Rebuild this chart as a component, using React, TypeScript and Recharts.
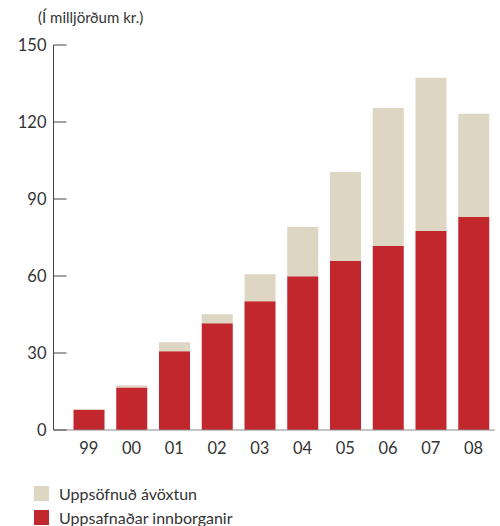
import React from 'react';
import { BarChart, Bar, XAxis, YAxis } from 'recharts';

const categories = ['99', '00', '01', '02', '03', '04', '05', '06', '07', '08'];
const innborganir = [7.9, 16.6, 30.7, 41.6, 50.2, 59.9, 65.8, 71.7, 77.5, 83.0];
const avoxtun = [0.3, 0.8, 3.5, 3.5, 10.5, 19.2, 34.7, 53.8, 59.7, 40.2];
const yTicks = [0, 30, 60, 90, 120, 150];
const seriesNames = ['Uppsöfnuð ávöxtun', 'Uppsafnaðar innborganir'];

const RED = '#C1272D';
const BEIGE = '#DDD6C3';
const FONT = 'Lato, "Open Sans", sans-serif';
const TEXT = '#333';

const data = categories.map((c, i) => ({
  name: c,
  innborganir: innborganir[i],
  avoxtun: avoxtun[i],
}));

const YTick = (props: any) => {
  const { x, y, payload } = props;
  const ax = x + 7;
  return (
    <g>
      <line x1={ax} x2={ax + 13} y1={y} y2={y} stroke="#444" strokeWidth={1} />
      <text x={x} y={y} dy={5.5} textAnchor="end" fill={TEXT} fontSize={16.5} fontFamily={FONT} fontWeight={400}>
        {payload.value}
      </text>
    </g>
  );
};

const LegendBlock = () => {
  const items = [
    { label: seriesNames[0], color: BEIGE },
    { label: seriesNames[1], color: RED },
  ];
  return (
    <div
      style={{
        position: 'absolute',
        left: 34,
        top: 481,
        fontFamily: FONT,
        fontSize: 16,
        color: TEXT,
        fontWeight: 400,
      }}
    >
      {items.map((it) => (
        <div key={it.label} style={{ display: 'flex', alignItems: 'center', height: 24 }}>
          <span style={{ display: 'inline-block', width: 15, height: 15, background: it.color, marginRight: 10 }} />
          <span>{it.label}</span>
        </div>
      ))}
    </div>
  );
};

export default function App() {
  return (
    <div style={{ position: 'absolute', left: 0, top: 0, width: 500, height: 526, background: '#fff' }}>
      <div
        style={{
          position: 'absolute',
          left: 38,
          top: 8,
          fontFamily: FONT,
          fontSize: 15,
          fontWeight: 400,
          color: TEXT,
          zIndex: 2,
        }}
      >
        (Í milljörðum kr.)
      </div>
      <BarChart
        width={500}
        height={526}
        data={data}
        margin={{ top: 45, right: 5, bottom: 66, left: 0 }}
      >
        <XAxis
          dataKey="name"
          tickLine={false}
          axisLine={{ stroke: '#8a8a8a', strokeWidth: 1 }}
          padding={{ left: 14, right: 0 }}
          tick={{ fill: TEXT, fontSize: 16.5, fontFamily: FONT, fontWeight: 400 }}
          tickMargin={6}
          interval={0}
          height={30}
        />
        <YAxis
          width={53.5}
          domain={[0, 150]}
          ticks={yTicks}
          interval={0}
          tickSize={0}
          tickMargin={7}
          tickLine={false}
          axisLine={{ stroke: '#444', strokeWidth: 1 }}
          tick={<YTick />}
        />
        <Bar dataKey="innborganir" stackId="a" fill={RED} barSize={31} isAnimationActive={false} />
        <Bar dataKey="avoxtun" stackId="a" fill={BEIGE} barSize={31} isAnimationActive={false} />
      </BarChart>
      <LegendBlock />
    </div>
  );
}
